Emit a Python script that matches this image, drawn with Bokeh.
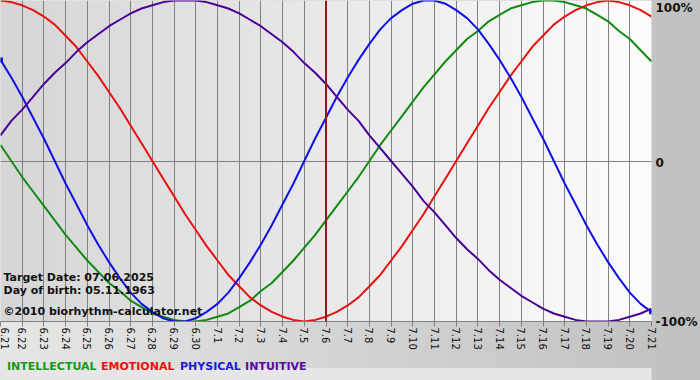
import numpy as np
from bokeh.plotting import figure
from bokeh.layouts import column
from bokeh.models import FixedTicker, Label, Span, Range1d, LinearAxis
from bokeh.embed import file_html
from bokeh.resources import INLINE

dates = ["6.21", "6.22", "6.23", "6.24", "6.25", "6.26", "6.27", "6.28", "6.29", "6.30",
         "7.1", "7.2", "7.3", "7.4", "7.5", "7.6", "7.7", "7.8", "7.9", "7.10",
         "7.11", "7.12", "7.13", "7.14", "7.15", "7.16", "7.17", "7.18", "7.19", "7.20", "7.21"]
samples_per_day = 2
intellectual = [10, 0, -10, -19, -28, -37, -46, -54, -62, -69, -76, -81, -87, -91, -95, -97,
                -99, -100, -100, -99, -97, -95, -91, -87, -81, -76, -69, -62, -54, -46, -37,
                -28, -19, -10, 0, 10, 19, 28, 37, 46, 54, 62, 69, 76, 81, 87, 91, 95, 97, 99,
                100, 100, 99, 97, 95, 91, 87, 81, 76, 69, 62]
emotional = [100, 99, 97, 94, 90, 85, 78, 71, 62, 53, 43, 33, 22, 11, 0, -11,
             -22, -33, -43, -53, -62, -71, -78, -85, -90, -94, -97, -99, -100, -99, -97,
             -94, -90, -85, -78, -71, -62, -53, -43, -33, -22, -11, 0, 11, 22, 33, 43, 53,
             62, 71, 78, 85, 90, 94, 97, 99, 100, 99, 97, 94, 90]
physical = [63, 52, 40, 27, 14, 0, -14, -27, -40, -52, -63, -73, -82, -89, -94, -98,
            -100, -100, -98, -94, -89, -82, -73, -63, -52, -40, -27, -14, 0, 14, 27,
            40, 52, 63, 73, 82, 89, 94, 98, 100, 100, 98, 94, 89, 82, 73, 63, 52,
            40, 27, 14, 0, -14, -27, -40, -52, -63, -73, -82, -89, -94]
intuitive = [16, 25, 32, 40, 48, 55, 61, 68, 74, 79, 84, 88, 92, 95, 97, 99,
             100, 100, 100, 99, 97, 95, 92, 88, 84, 79, 74, 68, 61, 55, 48,
             40, 32, 25, 16, 8, 0, -8, -16, -25, -32, -40, -48, -55, -61, -68, -74, -79,
             -84, -88, -92, -95, -97, -99, -100, -100, -100, -99, -97, -95, -92]
target_index = 15
y_tick_values = [95.5, -1, -100]
y_tick_labels = ["100%", "0", "-100%"]
series_names = ["INTELLECTUAL", "EMOTIONAL", "PHYSICAL", "INTUITIVE"]
info = ["Target Date: 07.06.2025", "Day of birth: 05.11.1963", "\u00a92010 biorhythm-calculator.net"]

days = list(range(len(dates)))
xs = [i / samples_per_day for i in range(len(physical))]

line_colors = ["#118a11", "#e81010", "#1010e6", "#4b0096"]
legend_colors = ["#139a13", "#ee1111", "#1a1ad8", "#5a0aa0"]

W = 700
H1, H2 = 352, 28
BR, BB = 49, 31
fw, fh = W - BR, H1 - BB
xmax = days[-1]
px_x = fw / xmax
px_y = fh / 200.0

def X(px):
    return px / px_x

def Y(py):
    return 100 - py / px_y

p = figure(width=W, height=H1, output_backend="svg", toolbar_location=None,
           x_range=Range1d(0, xmax), y_range=Range1d(-100, 100), y_axis_location=None,
           min_border_left=0, min_border_right=BR, min_border_top=0, min_border_bottom=BB)
p.outline_line_color = None
p.border_fill_alpha = 0
p.background_fill_color = "#e8e8e8"

# horizontal gradient of the plotting area
n = 326
g = np.linspace(214, 252, n).astype(np.uint32)
img = ((255 << 24) | (g << 16) | (g << 8) | g).astype(np.uint32).reshape(1, n)
p.image_rgba(image=[img], x=0, y=-100, dw=xmax, dh=200, level="image")

# bottom date axis
ax = p.xaxis[0]
ax.ticker = FixedTicker(ticks=days)
ax.major_label_overrides = {d: s for d, s in zip(days, dates)}
ax.major_label_orientation = -np.pi / 2
ax.axis_line_color = "#808080"
ax.major_tick_line_color = "#808080"
ax.major_tick_out = 5
ax.major_tick_in = 0
ax.minor_tick_line_color = None
ax.major_label_text_font = "DejaVu Sans"
ax.major_label_text_font_size = "10px"
ax.major_label_text_color = "#111111"
ax.major_label_standoff = 1

# right percent axis
ra = LinearAxis(ticker=FixedTicker(ticks=y_tick_values))
ra.major_label_overrides = {v: s for v, s in zip(y_tick_values, y_tick_labels)}
ra.axis_line_color = None
ra.major_tick_line_color = None
ra.minor_tick_line_color = None
ra.major_tick_out = 0
ra.major_tick_in = 0
ra.major_label_standoff = 4
ra.major_label_text_font = "DejaVu Sans"
ra.major_label_text_font_style = "bold"
ra.major_label_text_font_size = "12px"
ra.major_label_text_color = "#111111"
p.add_layout(ra, "right")

p.xgrid.ticker = FixedTicker(ticks=days)
p.xgrid.grid_line_color = "#808080"
p.xgrid.grid_line_alpha = 1
p.ygrid.ticker = FixedTicker(ticks=[0])
p.ygrid.grid_line_color = "#808080"
p.ygrid.grid_line_alpha = 1

# curves
for vals, col in zip([intellectual, emotional, physical, intuitive], line_colors):
    p.line(xs, vals, line_color=col, line_width=2, line_join="round")
p.scatter([xs[0], xs[-1]], [physical[0], physical[-1]], marker="square", size=4,
          color=line_colors[2])

# target date line
p.add_layout(Span(location=days[target_index], dimension="height",
                  line_color="#8b1c1c", line_width=2))

# info texts
for t, yy in zip(info, [277, 290, 311]):
    p.add_layout(Label(x=X(3), y=Y(yy), text=t, text_font="DejaVu Sans",
                       text_font_style="bold", text_font_size="11px", text_color="#111111",
                       text_baseline="alphabetic"))

# legend strip
q = figure(width=W, height=H2, output_backend="svg", toolbar_location=None,
           x_range=Range1d(0, W), y_range=Range1d(0, H2),
           x_axis_location=None, y_axis_location=None, min_border=0)
q.outline_line_color = None
q.grid.visible = False
q.border_fill_alpha = 0
q.background_fill_alpha = 0
q.quad(left=[0], right=[W], bottom=[0], top=[12], color="#e6e6e6", level="image")
for t, col, xx in zip(series_names, legend_colors, [7, 108, 193, 263]):
    q.add_layout(Label(x=xx, y=14, text=t, text_font="DejaVu Sans",
                       text_font_style="bold", text_font_size="11px", text_color=col,
                       text_baseline="alphabetic"))

page = column(p, q, spacing=0,
              styles={"background": "linear-gradient(to right, #e6e6e6, #c0c0c0)"})

open("out.html", "w").write(file_html(page, INLINE))
